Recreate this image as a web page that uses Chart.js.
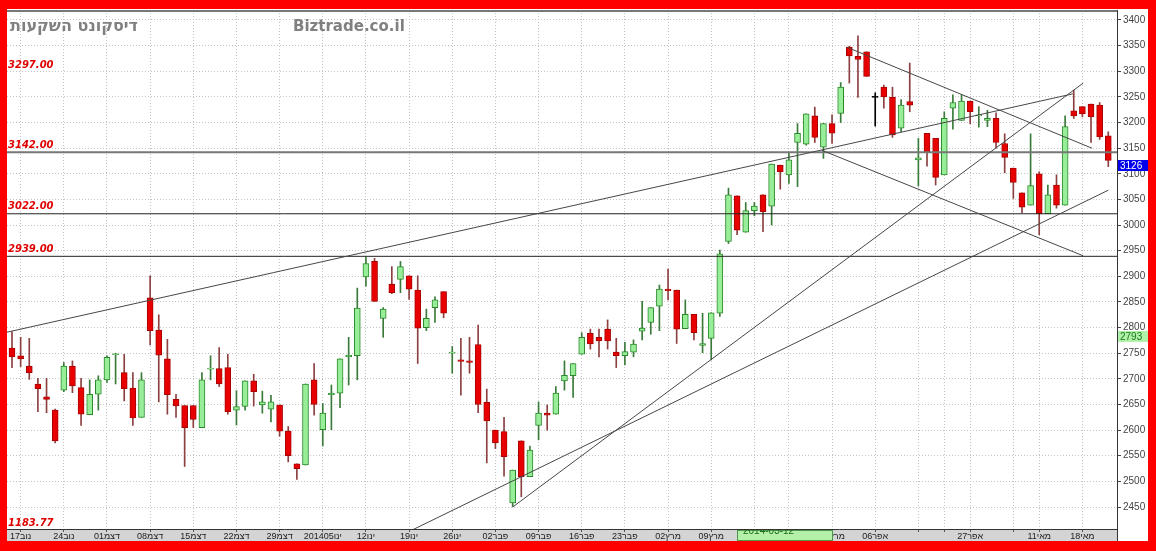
<!DOCTYPE html>
<html>
<head>
<meta charset="utf-8">
<script src="https://cdn.jsdelivr.net/npm/chart.js@4.4.1/dist/chart.umd.min.js"></script>
<style>
  html, body { margin: 0; padding: 0; background: #ff0000; overflow: hidden; }
  canvas { display: block; }
</style>
</head>
<body>
<canvas id="chart" width="1156" height="551"></canvas>
<script>
// daily candles, 17 Nov 2013 .. 22 May 2014 (trading days)
const opens = [2760,2745,2725,2690,2665,2639,2678,2725,2683,2630,
  2670,2698,2747,2712,2682,2625,2858,2795,2739,2660,
  2648,2648,2605,2719,2720,2722,2639,2646,2696,2649,
  2641,2649,2598,2534,2532,2698,2601,2669,2672,2743,
  2745,2899,2929,2818,2885,2894,2901,2873,2800,2839,
  2870,2750,2737,2735,2767,2654,2600,2597,2458,2579,
  2509,2609,2633,2631,2696,2706,2748,2789,2781,2797,
  2752,2745,2752,2793,2810,2842,2875,2873,2798,2826,
  2765,2779,2828,2968,3057,2986,3028,3059,3037,3117,
  3098,3161,3158,3213,3152,3198,3218,3347,3329,3338,
  3249,3269,3249,3189,3241,3127,3179,3169,3098,3228,
  3204,3242,3213,3204,3208,3159,3111,3063,3039,3100,
  3022,3078,3039,3223,3231,3236,3234,3174];
const highs = [2792,2781,2779,2701,2701,2641,2732,2735,2701,2698,
  2706,2745,2750,2748,2712,2712,2901,2825,2777,2670,
  2648,2648,2712,2745,2761,2748,2677,2696,2709,2676,
  2668,2649,2607,2534,2690,2730,2652,2688,2739,2781,
  2877,2937,2935,2839,2919,2929,2901,2901,2836,2860,
  2870,2763,2779,2781,2805,2680,2600,2625,2522,2579,
  2569,2655,2649,2685,2735,2730,2790,2797,2797,2815,
  2779,2771,2776,2851,2839,2883,2914,2873,2854,2826,
  2828,2829,2951,3072,3057,3044,3044,3059,3119,3117,
  3140,3198,3217,3230,3198,3215,3278,3349,3369,3338,
  3258,3273,3269,3245,3316,3169,3179,3169,3221,3254,
  3254,3242,3231,3224,3219,3178,3111,3063,3178,3104,
  3078,3098,3213,3263,3231,3236,3239,3182];
const lows = [2722,2724,2699,2636,2634,2575,2675,2673,2609,2630,
  2639,2693,2690,2657,2609,2625,2766,2655,2631,2625,
  2529,2605,2605,2698,2685,2631,2610,2639,2647,2633,
  2616,2588,2538,2504,2532,2629,2569,2601,2644,2688,
  2698,2881,2851,2781,2866,2868,2855,2730,2794,2810,
  2819,2711,2668,2711,2634,2536,2564,2510,2451,2470,
  2509,2581,2600,2631,2678,2664,2748,2758,2743,2758,
  2722,2727,2743,2776,2787,2794,2854,2769,2798,2776,
  2751,2737,2822,2964,2981,2986,3018,2987,3000,3070,
  3081,3075,3156,3161,3130,3159,3200,3277,3249,3290,
  3193,3228,3171,3182,3221,3076,3115,3078,3098,3187,
  3204,3198,3191,3192,3150,3102,3052,3024,3039,2981,
  3022,3033,3039,3208,3211,3161,3167,3114];
const closes = [2743,2739,2712,2681,2660,2579,2725,2686,2631,2670,
  2698,2742,2749,2681,2624,2698,2794,2746,2669,2647,
  2605,2621,2698,2720,2690,2636,2646,2696,2675,2655,
  2655,2598,2550,2525,2690,2650,2633,2672,2739,2746,
  2838,2925,2851,2836,2868,2919,2875,2799,2818,2854,
  2828,2752,2734,2732,2650,2618,2575,2548,2522,2509,
  2561,2633,2629,2672,2707,2730,2781,2768,2774,2774,
  2745,2753,2768,2799,2839,2875,2872,2797,2826,2790,
  2769,2829,2944,3059,2990,3028,3037,3026,3119,3104,
  3127,3179,3217,3171,3198,3179,3269,3330,3323,3290,
  3249,3250,3176,3234,3234,3131,3141,3093,3208,3239,
  3242,3221,3215,3208,3161,3132,3083,3035,3077,3022,
  3059,3039,3192,3213,3217,3211,3172,3126];

// week marks on the time axis: candle index and label ('' = no label shown)
const tickAt = [1,6,11,16,21,26,31,36,41,46,51,56,61,66,71,76,81,86,90,95,100,105,108,111,116,119,124];
const tickLabels = ['17נוב','24נוב','01דצמ','08דצמ','15דצמ','22דצמ','29דצמ','201405ינו','12ינו',
  '19ינו','26ינו','02פבר','09פבר','16פבר','23פבר','02מרץ','09מרץ','16מרץ','23מרץ','30מרץ',
  '06אפר','','','27אפר','','11מאי','18מאי'];

// price levels (labels) and which of them are drawn as lines
const levelValues = [3297, 3142, 3022, 2939, 1183.77];
const levelLines = [3142, 3022, 2939];

// trend lines: [index0, price0, index1, price1]
const trendLines = [
  [-0.58, 2791, 122.9, 3256],
  [46.1, 2403, 127.0, 3068],
  [58.0, 2450, 124.1, 3277],
  [96.7, 3347, 125.1, 3150],
  [93.8, 3146, 124.1, 2940]
];

const lastPrice = 3126;
const cursorPrice = 2793;
const cursorDate = '2014-03-12';
const cursorIndex = 84;

const X_MIN = -0.58, X_MAX = 128.01;
const idx = opens.map((_, i) => i);
const dir = i => closes[i] > opens[i] ? 1 : (closes[i] < opens[i] ? -1 : 0);
const bodyFill = idx.map(i => dir(i) > 0 ? '#98ee98' : dir(i) < 0 ? '#e80000' : '#000');
const bodyEdge = idx.map(i => dir(i) > 0 ? '#2a8a2a' : dir(i) < 0 ? '#a80000' : '#000');
const wickCol = idx.map(i => dir(i) > 0 ? '#3a7a3a' : dir(i) < 0 ? '#8c4040' : '#000');

const datasets = [
  {
    type: 'bar', order: 3, grouped: false, barThickness: 1,
    data: idx.map(i => ({ x: i, y: [lows[i], highs[i]] })),
    backgroundColor: wickCol
  },
  {
    type: 'bar', order: 2, grouped: false, barThickness: 6, minBarLength: 1,
    data: idx.map(i => ({ x: i, y: [Math.min(opens[i], closes[i]), Math.max(opens[i], closes[i])] })),
    backgroundColor: bodyFill, borderColor: bodyEdge, borderWidth: 1, borderSkipped: false
  }
];
levelLines.forEach(v => datasets.push({
  type: 'line', order: 1, data: [{ x: X_MIN, y: v }, { x: X_MAX, y: v }],
  borderColor: v === 3142 ? '#777' : '#222', borderWidth: v === 3142 ? 2 : 1, pointRadius: 0
}));
trendLines.forEach(t => datasets.push({
  type: 'line', order: 0, data: [{ x: t[0], y: t[1] }, { x: t[2], y: t[3] }],
  borderColor: '#474747', borderWidth: 1, pointRadius: 0
}));

const decor = {
  id: 'decor',
  beforeDraw(chart) {
    const { ctx, chartArea: a } = chart;
    ctx.save();
    ctx.fillStyle = '#fff';
    ctx.fillRect(a.left, a.top - 1, a.right - a.left + 31, a.bottom - a.top + 13);
    ctx.fillStyle = '#d4d4d4';
    ctx.fillRect(a.left, a.bottom, a.right - a.left, 12);
    ctx.restore();
  },
  afterDraw(chart) {
    const { ctx, chartArea: a, scales } = chart;
    const y = scales.y, x = scales.x;
    ctx.save();
    // frame lines
    ctx.strokeStyle = '#777'; ctx.lineWidth = 2;
    ctx.beginPath(); ctx.moveTo(a.left, a.top + 1); ctx.lineTo(a.right, a.top + 1); ctx.stroke();
    ctx.strokeStyle = '#333'; ctx.lineWidth = 1;
    ctx.beginPath(); ctx.moveTo(a.left, a.bottom + 0.5); ctx.lineTo(a.right, a.bottom + 0.5); ctx.stroke();
    ctx.beginPath(); ctx.moveTo(a.right + 0.5, a.top); ctx.lineTo(a.right + 0.5, a.bottom + 12); ctx.stroke();

    // titles
    ctx.fillStyle = '#808080';
    ctx.font = 'bold 16px "DejaVu Sans"';
    ctx.textBaseline = 'middle';
    ctx.textAlign = 'left';
    ctx.fillText('דיסקונט השקעות', 10, 27);
    ctx.font = 'bold 15px "DejaVu Sans"';
    ctx.fillText('Biztrade.co.il', 293, 27);

    // level labels
    ctx.fillStyle = '#e00000';
    ctx.font = 'bold italic 10px "DejaVu Sans"';
    levelValues.forEach(v => {
      const py = Math.min(y.getPixelForValue(v) - 7, a.bottom - 6);
      ctx.fillText(v.toFixed(2), a.left + 1, py);
    });

    // price boxes on the axis
    ctx.font = '10px "Liberation Sans"';
    const box = (v, bg, fg) => {
      const py = Math.round(y.getPixelForValue(v));
      ctx.fillStyle = bg;
      ctx.fillRect(a.right + 1, py, 30, 11);
      ctx.fillStyle = fg;
      ctx.fillText(String(v), a.right + 3, py + 6);
    };
    box(lastPrice, '#0000ee', '#fff');
    box(cursorPrice, '#b0f0a8', '#1a7a1a');

    // cursor date box on the time axis
    const bx = Math.round(x.getPixelForValue(cursorIndex));
    ctx.fillStyle = '#b4f0a8';
    ctx.fillRect(bx, a.bottom + 1, 96, 11);
    ctx.strokeStyle = '#4a9a4a';
    ctx.strokeRect(bx + 0.5, a.bottom + 1.5, 95, 10);
    ctx.beginPath(); ctx.rect(bx, a.bottom + 1, 96, 11); ctx.clip();
    ctx.fillStyle = '#1a6a1a';
    ctx.font = '10px "Liberation Sans"';
    ctx.fillText(cursorDate, bx + 6, a.bottom + 2);
    ctx.restore();
  }
};

new Chart(document.getElementById('chart'), {
  type: 'bar',
  data: { datasets },
  options: {
    responsive: false,
    devicePixelRatio: 1,
    animation: false,
    events: [],
    layout: { padding: { left: 7, top: 10, right: 8, bottom: 10 } },
    plugins: { legend: { display: false }, tooltip: { enabled: false } },
    scales: {
      x: {
        type: 'linear', position: 'bottom', min: X_MIN, max: X_MAX, offset: false,
        afterBuildTicks: s => { s.ticks = tickAt.map(v => ({ value: v })); },
        afterFit: s => { s.height = 12; },
        grid: { color: '#c4c4c4', tickColor: '#555', tickLength: 3, offset: false },
        border: { display: false, dash: [1, 2] },
        ticks: {
          autoSkip: false, maxRotation: 0, padding: -1,
          color: '#222', font: { family: 'Liberation Sans', size: 9 },
          callback: (v, i) => tickLabels[i]
        }
      },
      y: {
        position: 'right', min: 2407.1, max: 3419.5,
        afterFit: s => { s.width = 31; },
        grid: { color: '#c4c4c4', tickColor: '#444', tickLength: 4 },
        border: { display: false, dash: [1, 2] },
        ticks: {
          stepSize: 50, includeBounds: false, padding: 2,
          color: '#444', font: { family: 'Liberation Sans', size: 10 },
          callback: v => String(v)
        }
      }
    }
  },
  plugins: [decor]
});
</script>
</body>
</html>
